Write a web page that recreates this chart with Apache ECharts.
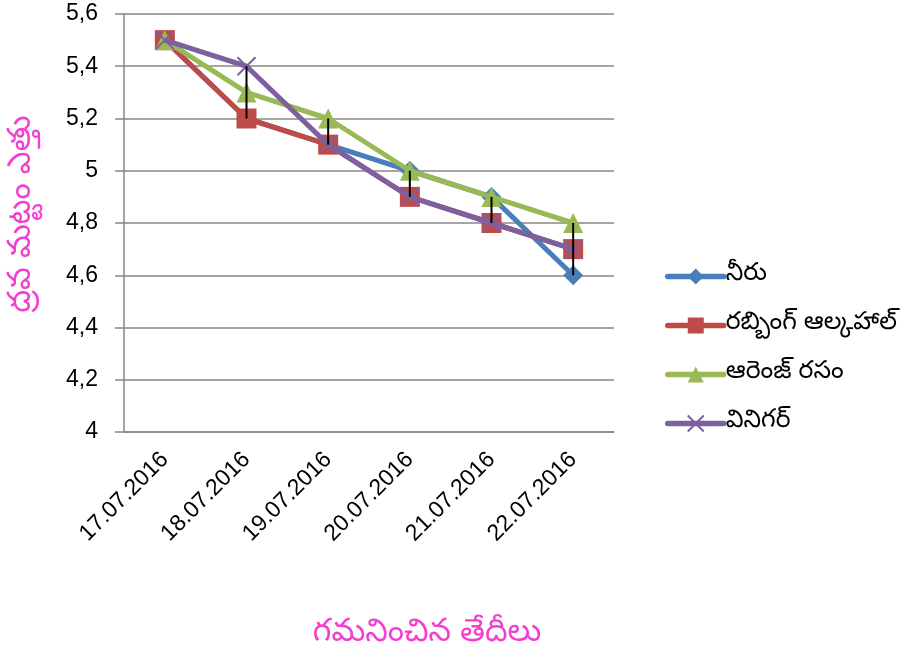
<!DOCTYPE html>
<html>
<head>
<meta charset="utf-8">
<script src="https://cdn.jsdelivr.net/npm/echarts@6/dist/echarts.min.js"></script>
<style>
  html, body { margin: 0; padding: 0; background: #fff; }
  #chart { width: 904px; height: 657px; }
</style>
</head>
<body>
<div id="chart"></div>
<script>
// Observation dates and measured levels per liquid
const dates = ['17.07.2016', '18.07.2016', '19.07.2016', '20.07.2016', '21.07.2016', '22.07.2016'];
const water = [5.5, 5.2, 5.1, 5.0, 4.9, 4.6];
const rubbingAlcohol = [5.5, 5.2, 5.1, 4.9, 4.8, 4.7];
const orangeJuice = [5.5, 5.3, 5.2, 5.0, 4.9, 4.8];
const vinegar = [5.5, 5.4, 5.1, 4.9, 4.8, 4.7];

const seriesNames = ['నీరు', 'రబ్బింగ్ ఆల్కహాల్', 'ఆరెంజ్ రసం', 'వినిగర్'];
const yTicks = [4, 4.2, 4.4, 4.6, 4.8, 5, 5.2, 5.4, 5.6];

const xTitle = 'గమనించిన తేదీలు';
const yTitle = 'ద్రవ మట్టం ఎత్తు';

const LATIN = "'Liberation Sans', 'Noto Sans', sans-serif";
const TELUGU = "'Noto Sans Telugu', 'Noto Sans', sans-serif";
const PINK = '#F23FCF';
const GRID = '#878787';

// high-low span at each date across all series
const allSeries = [water, rubbingAlcohol, orangeJuice, vinegar];
const hiLo = dates.map((d, i) => {
  const vals = allSeries.map(s => s[i]);
  return [i, Math.min(...vals), Math.max(...vals)];
});

function lineSeries(name, data, color, symbol, size, extra) {
  return Object.assign({
    name: name,
    type: 'line',
    data: data,
    symbol: symbol,
    symbolSize: size,
    lineStyle: { color: color, width: 5 },
    itemStyle: { color: color },
    emphasis: { disabled: true },
    animation: false
  }, extra || {});
}

const chart = echarts.init(document.getElementById('chart'));
chart.setOption({
  animation: false,
  grid: { left: 124, right: 290, top: 14, bottom: 225, containLabel: false },
  legend: {
    orient: 'vertical',
    left: 660,
    top: 259,
    itemWidth: 56,
    itemHeight: 20,
    itemGap: 24,
    lineStyle: { width: 5.5, cap: 'round' },
    textStyle: { fontFamily: TELUGU, fontSize: 25, lineHeight: 24, color: '#000', padding: [0, 0, 0, -3] },
    data: seriesNames
  },
  graphic: [
    {
      type: 'text',
      x: 427, y: 636,
      style: {
        text: xTitle, fill: PINK, font: '32px ' + TELUGU,
        textAlign: 'center', textVerticalAlign: 'middle'
      }
    },
    {
      type: 'text',
      x: 25, y: 214,
      rotation: Math.PI / 2,
      style: {
        text: yTitle, fill: PINK, font: '32px ' + TELUGU,
        textAlign: 'center', textVerticalAlign: 'middle'
      }
    }
  ],
  xAxis: {
    type: 'category',
    data: dates,
    boundaryGap: true,
    axisLine: { lineStyle: { color: GRID, width: 1.5 } },
    axisTick: { show: false },
    axisLabel: {
      rotate: 45,
      margin: 24,
      fontFamily: LATIN,
      fontSize: 23,
      color: '#000'
    }
  },
  yAxis: {
    type: 'value',
    min: yTicks[0],
    max: yTicks[yTicks.length - 1],
    interval: 0.2,
    axisLine: { show: true, lineStyle: { color: GRID, width: 1.5 } },
    axisTick: { show: true, length: 9, lineStyle: { color: GRID, width: 1.5 } },
    splitLine: { lineStyle: { color: GRID, width: 1.5 } },
    axisLabel: {
      margin: 26,
      fontFamily: LATIN,
      fontSize: 23,
      color: '#000',
      formatter: v => String(Math.round(v * 10) / 10).replace('.', ',')
    }
  },
  series: [
    lineSeries(seriesNames[0], water, '#4A7EBB', 'diamond', 20, { z: 2 }),
    lineSeries(seriesNames[1], rubbingAlcohol, '#BE4B48', 'rect', 20, { z: 3 }),
    lineSeries(seriesNames[2], orangeJuice, '#98B954', 'triangle', 20, { z: 4 }),
    lineSeries(seriesNames[3], vinegar, '#7D60A0', 'path://M0,0L10,10M10,0L0,10', 18, {
      z: 5,
      itemStyle: { color: '#7D60A0', borderColor: '#7D60A0', borderWidth: 2 }
    }),
    {
      type: 'custom',
      z: 10,
      silent: true,
      animation: false,
      data: hiLo,
      renderItem: (params, api) => {
        const lo = api.coord([api.value(0), api.value(1)]);
        const hi = api.coord([api.value(0), api.value(2)]);
        return {
          type: 'line',
          shape: { x1: lo[0], y1: lo[1], x2: hi[0], y2: hi[1] },
          style: { stroke: '#000', lineWidth: 2 }
        };
      }
    }
  ]
});
</script>
</body>
</html>
